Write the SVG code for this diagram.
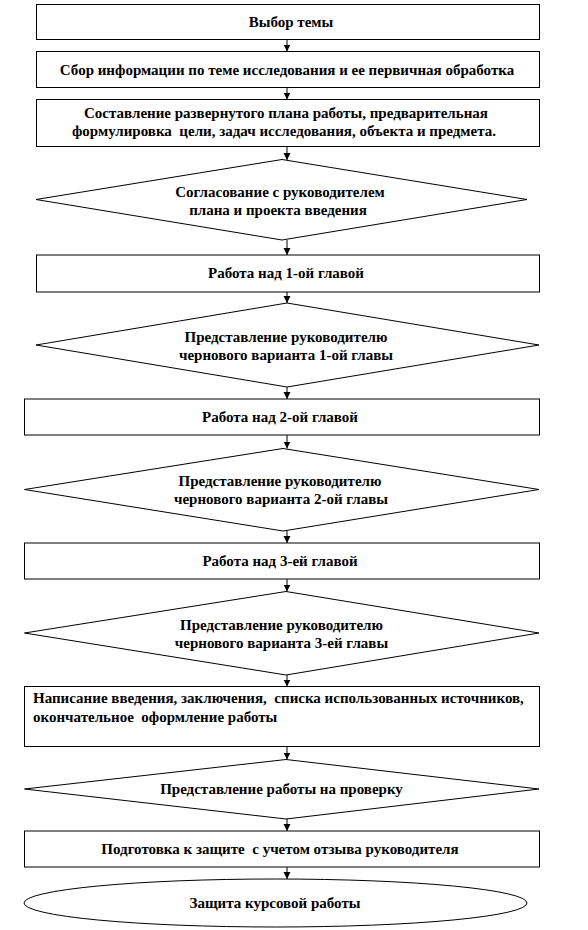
<svg xmlns="http://www.w3.org/2000/svg" width="588" height="930" viewBox="0 0 588 930">
<defs>
<style>
.bx{fill:#fff;stroke:#000;stroke-width:1}
.t{font-family:'Liberation Serif','Times New Roman','DejaVu Serif',serif;font-weight:700;font-size:15px;fill:#000;text-anchor:middle}
.tl{text-anchor:start}
.c{stroke:#000;stroke-width:1;fill:none;marker-end:url(#ah)}
</style>
<marker id="ah" markerUnits="userSpaceOnUse" markerWidth="8" markerHeight="8" refX="7" refY="4" orient="auto">
<path d="M0,0.5 L7,4 L0,7.5 Z" fill="#000"/>
</marker>
</defs>
<rect width="588" height="930" fill="#fff"/>
<g id="connectors">
<line class="c" x1="287" y1="39.5" x2="287" y2="51.5"/>
<line class="c" x1="287" y1="87.5" x2="287" y2="99.5"/>
<line class="c" x1="287" y1="146.5" x2="287" y2="160"/>
<line class="c" x1="287" y1="240" x2="287" y2="255"/>
<line class="c" x1="287" y1="292" x2="287" y2="303"/>
<line class="c" x1="287" y1="387" x2="287" y2="399"/>
<line class="c" x1="287" y1="435" x2="287" y2="448.5"/>
<line class="c" x1="287" y1="531" x2="287" y2="543"/>
<line class="c" x1="287" y1="579" x2="287" y2="591.5"/>
<line class="c" x1="287" y1="675" x2="287" y2="686.5"/>
<line class="c" x1="287" y1="746.5" x2="287" y2="759.5"/>
<line class="c" x1="287" y1="819" x2="287" y2="831"/>
<line class="c" x1="287" y1="867" x2="287" y2="879"/>
</g>
<g id="n1">
<rect class="bx" x="36.5" y="4.5" width="503" height="35"/>
<text class="t" font-family="Liberation Serif, serif" x="291" y="27">Выбор темы</text>
</g>
<g id="n2">
<rect class="bx" x="36.5" y="51.5" width="503" height="36"/>
<text class="t" x="287" y="75">Сбор информации по теме исследования и ее первичная обработка</text>
</g>
<g id="n3">
<rect class="bx" x="36.5" y="99.5" width="503" height="47"/>
<text class="t" x="286" y="118">Составление развернутого плана работы, предварительная</text>
<text class="t" x="284" y="136" xml:space="preserve">формулировка  цели, задач исследования, объекта и предмета.</text>
</g>
<g id="n4">
<polygon class="bx" points="282,159.5 527,199.5 282,240 36,199.5"/>
<text class="t" x="280" y="197">Согласование с руководителем</text>
<text class="t" x="278" y="215">плана и проекта введения</text>
</g>
<g id="n5">
<rect class="bx" x="36.5" y="255" width="503" height="37"/>
<text class="t" x="286" y="278">Работа над 1-ой главой</text>
</g>
<g id="n6">
<polygon class="bx" points="287,303 539,345 287,387 36,345"/>
<text class="t" x="286" y="342">Представление руководителю</text>
<text class="t" x="286" y="360">чернового варианта 1-ой главы</text>
</g>
<g id="n7">
<rect class="bx" x="24.5" y="399" width="515" height="36"/>
<text class="t" x="280" y="422">Работа над 2-ой главой</text>
</g>
<g id="n8">
<polygon class="bx" points="283,448.5 539,489.5 283,531 24.5,489.5"/>
<text class="t" x="280" y="486">Представление руководителю</text>
<text class="t" x="281" y="504">чернового варианта 2-ой главы</text>
</g>
<g id="n9">
<rect class="bx" x="24.5" y="543" width="515" height="36"/>
<text class="t" x="280" y="566">Работа над 3-ей главой</text>
</g>
<g id="n10">
<polygon class="bx" points="286,591.5 539,633 286,675 24.5,633"/>
<text class="t" x="281.5" y="630">Представление руководителю</text>
<text class="t" x="281.5" y="648">чернового варианта 3-ей главы</text>
</g>
<g id="n11">
<rect class="bx" x="24.5" y="686.5" width="515" height="60"/>
<text class="t tl" x="33" y="703" xml:space="preserve">Написание введения, заключения,  списка использованных источников,</text>
<text class="t tl" x="33" y="722" xml:space="preserve">окончательное  оформление работы</text>
</g>
<g id="n12">
<polygon class="bx" points="286,759.5 539,789 286,819 24.5,789"/>
<text class="t" x="281.5" y="794">Представление работы на проверку</text>
</g>
<g id="n13">
<rect class="bx" x="24.5" y="831" width="515" height="36"/>
<text class="t" x="280" y="854" xml:space="preserve">Подготовка к защите  с учетом отзыва руководителя</text>
</g>
<g id="n14">
<ellipse class="bx" cx="275.5" cy="903" rx="251.5" ry="24"/>
<text class="t" x="275" y="908">Защита курсовой работы</text>
</g>
</svg>
